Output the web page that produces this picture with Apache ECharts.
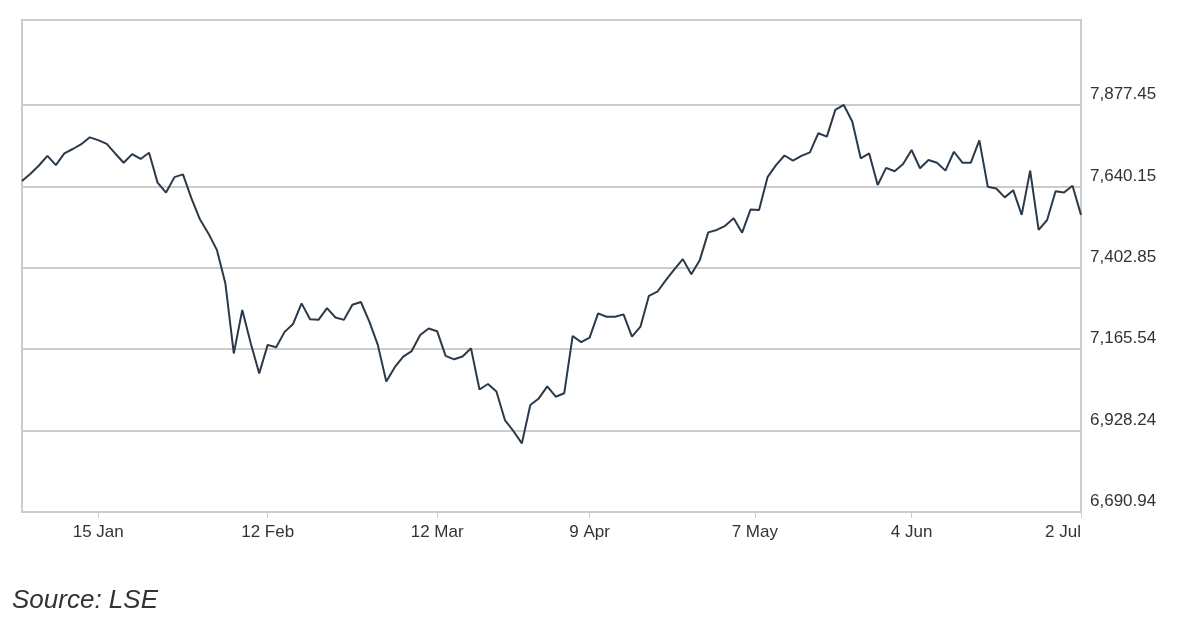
<!DOCTYPE html>
<html>
<head>
<meta charset="utf-8">
<script src="https://cdn.jsdelivr.net/npm/echarts@6/dist/echarts.min.js"></script>
<style>
html,body{margin:0;padding:0;background:#fff;}
#chart{width:1200px;height:621px;}
</style>
</head>
<body>
<div id="chart"></div>
<script>
// Trading days (LSE, 2018)
const tradingDates = [
  "2018-01-02","2018-01-03","2018-01-04","2018-01-05","2018-01-08","2018-01-09","2018-01-10","2018-01-11","2018-01-12",
  "2018-01-15","2018-01-16","2018-01-17","2018-01-18","2018-01-19","2018-01-22","2018-01-23","2018-01-24","2018-01-25","2018-01-26",
  "2018-01-29","2018-01-30","2018-01-31",
  "2018-02-01","2018-02-02","2018-02-05","2018-02-06","2018-02-07","2018-02-08","2018-02-09","2018-02-12","2018-02-13","2018-02-14",
  "2018-02-15","2018-02-16","2018-02-19","2018-02-20","2018-02-21","2018-02-22","2018-02-23","2018-02-26","2018-02-27","2018-02-28",
  "2018-03-01","2018-03-02","2018-03-05","2018-03-06","2018-03-07","2018-03-08","2018-03-09","2018-03-12","2018-03-13","2018-03-14",
  "2018-03-15","2018-03-16","2018-03-19","2018-03-20","2018-03-21","2018-03-22","2018-03-23","2018-03-26","2018-03-27","2018-03-28",
  "2018-03-29",
  "2018-04-03","2018-04-04","2018-04-05","2018-04-06","2018-04-09","2018-04-10","2018-04-11","2018-04-12","2018-04-13","2018-04-16",
  "2018-04-17","2018-04-18","2018-04-19","2018-04-20","2018-04-23","2018-04-24","2018-04-25","2018-04-26","2018-04-27","2018-04-30",
  "2018-05-01","2018-05-02","2018-05-03","2018-05-04","2018-05-08","2018-05-09","2018-05-10","2018-05-11","2018-05-14","2018-05-15",
  "2018-05-16","2018-05-17","2018-05-18","2018-05-21","2018-05-22","2018-05-23","2018-05-24","2018-05-25","2018-05-29","2018-05-30",
  "2018-05-31",
  "2018-06-01","2018-06-04","2018-06-05","2018-06-06","2018-06-07","2018-06-08","2018-06-11","2018-06-12","2018-06-13","2018-06-14",
  "2018-06-15","2018-06-18","2018-06-19","2018-06-20","2018-06-21","2018-06-22","2018-06-25","2018-06-26","2018-06-27","2018-06-28",
  "2018-06-29",
  "2018-07-02"
];

// Closing values
const closeValues = [
  7656, 7677, 7701, 7729, 7702, 7736, 7749, 7763, 7783,
  7775, 7764, 7736, 7709, 7734, 7720, 7738, 7651, 7622, 7667,
  7675, 7605, 7544,
  7503, 7455, 7358, 7153, 7280, 7183, 7095, 7178, 7171, 7216,
  7239, 7299, 7253, 7251, 7285, 7258, 7251, 7295, 7303, 7246,
  7178, 7071, 7113, 7144, 7160, 7207, 7226, 7218, 7146, 7136,
  7144, 7168, 7048, 7064, 7042, 6959, 6927, 6891, 7003, 7022,
  7057,
  7027, 7037, 7204, 7186, 7199, 7270, 7260, 7260, 7267, 7202,
  7231, 7321, 7333, 7367, 7398, 7428, 7384, 7425, 7506, 7513,
  7525, 7547, 7505, 7573, 7571, 7667, 7702, 7730, 7715, 7729,
  7739, 7795, 7785, 7863, 7877.45, 7829, 7722, 7736, 7644, 7694,
  7684,
  7705, 7746, 7693, 7717, 7709, 7686, 7741, 7709, 7709, 7774,
  7639, 7634, 7608, 7629, 7557, 7686, 7513, 7542, 7626, 7622,
  7642,
  7557
];

const xTickDates  = ["2018-01-15","2018-02-12","2018-03-12","2018-04-09","2018-05-07","2018-06-04","2018-07-02"];
const xTickLabels = ["15 Jan","12 Feb","12 Mar","9 Apr","7 May","4 Jun","2 Jul"];

const yTickValues = [6690.94, 6928.24, 7165.54, 7402.85, 7640.15, 7877.45];
const yAxisMin = 6690.94;
const yAxisMax = 8125;

const sourceText = "Source: LSE";

// Position of a calendar date on the trading-day index scale
function datePosition(d) {
  const i = tradingDates.indexOf(d);
  if (i >= 0) return i;
  const next = tradingDates.findIndex(t => t > d);
  return next - 0.5;
}
const xTickPositions = xTickDates.map(datePosition);

const seriesData = closeValues.map((v, i) => [i, v]);

const FONT = '"Liberation Sans", Arial, Helvetica, sans-serif';
const GRID_COLOR = '#cccccc';

const chart = echarts.init(document.getElementById('chart'), null, {renderer: 'canvas'});
chart.setOption({
  animation: false,
  backgroundColor: '#ffffff',
  grid: {
    left: 22, right: 119, top: 20, bottom: 109,
    show: true, borderColor: GRID_COLOR, borderWidth: 2, backgroundColor: 'transparent'
  },
  xAxis: {
    type: 'value',
    min: 0,
    max: tradingDates.length - 1,
    axisLine: {show: true, lineStyle: {color: GRID_COLOR, width: 2}},
    axisTick: {show: true, length: 6, lineStyle: {color: GRID_COLOR, width: 1}, customValues: xTickPositions},
    splitLine: {show: false},
    axisLabel: {
      customValues: xTickPositions,
      color: '#333',
      fontFamily: FONT,
      fontSize: 17,
      margin: 12,
      alignMaxLabel: 'right',
      formatter: function (v) {
        for (let k = 0; k < xTickPositions.length; k++) {
          if (Math.abs(xTickPositions[k] - v) < 1e-6) return xTickLabels[k];
        }
        return '';
      }
    }
  },
  yAxis: {
    type: 'value',
    position: 'right',
    min: yAxisMin,
    max: yAxisMax,
    axisLine: {show: true, lineStyle: {color: GRID_COLOR, width: 2}},
    axisTick: {show: false, customValues: yTickValues},
    splitLine: {show: true, lineStyle: {color: GRID_COLOR, width: 2}},
    axisLabel: {
      customValues: yTickValues,
      color: '#333',
      fontFamily: FONT,
      fontSize: 17,
      margin: 9,
      verticalAlign: 'bottom',
      padding: [0, 0, 2, 0],
      formatter: function (v) {
        return v.toLocaleString('en-US', {minimumFractionDigits: 2, maximumFractionDigits: 2});
      }
    }
  },
  graphic: [{
    type: 'text',
    left: 12,
    top: 588,
    style: {
      text: sourceText,
      fill: '#333',
      font: 'italic 26px ' + FONT
    }
  }],
  series: [{
    type: 'line',
    data: seriesData,
    symbol: 'none',
    smooth: false,
    lineStyle: {color: '#2b3a4a', width: 2},
    z: 5
  }]
});
</script>
</body>
</html>
